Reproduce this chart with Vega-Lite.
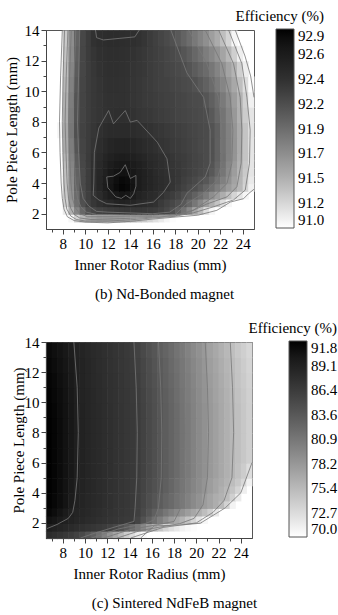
{"$schema":"https://vega.github.io/schema/vega-lite/v6.json","padding":{"left":3,"top":8,"right":0,"bottom":0},"background":"white","columns":1,"align":"none","spacing":17,"resolve":{"scale":{"color":"independent","x":"independent","y":"independent"}},
"config":{"font":"Liberation Serif","view":{"stroke":"#555555","strokeWidth":1},"axis":{"labelFontSize":15,"titleFontSize":15,"titleFontWeight":"normal","labelColor":"#000","titleColor":"#000","domainColor":"#444","tickColor":"#444","grid":false,"labelPadding":2,"labelFlush":false,"labelOverlap":false,"format":"d"},"legend":{"labelFontSize":15,"titleFontSize":15,"titleFontWeight":"normal","labelColor":"#000","titleColor":"#000","gradientStrokeColor":"#555","gradientStrokeWidth":1},"title":{"fontSize":15,"fontWeight":"normal","color":"#000"}},
"concat":[
{"width":208,"height":199,
"title":{"text":"(b)  Nd-Bonded  magnet","orient":"bottom","offset":15,"anchor":"middle","frame":"bounds"},
"layer":[
{"data":{"values":[
{"x":8.75,"y":1.5,"y2":2,"e":91.05},{"x":9.25,"y":1.5,"y2":2,"e":91.25},{"x":9.75,"y":1.5,"y2":2,"e":91.42},{"x":10.25,"y":1.5,"y2":2,"e":91.5},{"x":10.75,"y":1.5,"y2":2,"e":91.55},{"x":11.25,"y":1.5,"y2":2,"e":91.6},{"x":11.75,"y":1.5,"y2":2,"e":91.6},{"x":12.25,"y":1.5,"y2":2,"e":91.6},{"x":12.75,"y":1.5,"y2":2,"e":91.58},{"x":13.25,"y":1.5,"y2":2,"e":91.55},{"x":13.75,"y":1.5,"y2":2,"e":91.5},{"x":14.25,"y":1.5,"y2":2,"e":91.45},{"x":14.75,"y":1.5,"y2":2,"e":91.38},{"x":15.25,"y":1.5,"y2":2,"e":91.32},{"x":15.75,"y":1.5,"y2":2,"e":91.25},{"x":16.25,"y":1.5,"y2":2,"e":91.18},{"x":16.75,"y":1.5,"y2":2,"e":91.12},{"x":17.25,"y":1.5,"y2":2,"e":91.06},{"x":17.75,"y":1.5,"y2":2,"e":91.02},
{"x":8.25,"y":2,"y2":2.5,"e":91.12},{"x":8.75,"y":2,"y2":2.5,"e":91.47},{"x":9.25,"y":2,"y2":2.5,"e":91.76},{"x":9.75,"y":2,"y2":2.5,"e":91.98},{"x":10.25,"y":2,"y2":2.5,"e":92.16},{"x":10.75,"y":2,"y2":2.5,"e":92.22},{"x":11.25,"y":2,"y2":2.5,"e":92.26},{"x":11.75,"y":2,"y2":2.5,"e":92.29},{"x":12.25,"y":2,"y2":2.5,"e":92.31},{"x":12.75,"y":2,"y2":2.5,"e":92.33},{"x":13.25,"y":2,"y2":2.5,"e":92.34},{"x":13.75,"y":2,"y2":2.5,"e":92.35},{"x":14.25,"y":2,"y2":2.5,"e":92.35},{"x":14.75,"y":2,"y2":2.5,"e":92.35},{"x":15.25,"y":2,"y2":2.5,"e":92.34},{"x":15.75,"y":2,"y2":2.5,"e":92.33},{"x":16.25,"y":2,"y2":2.5,"e":92.31},{"x":16.75,"y":2,"y2":2.5,"e":92.28},{"x":17.25,"y":2,"y2":2.5,"e":92.22},{"x":17.75,"y":2,"y2":2.5,"e":92.14},{"x":18.25,"y":2,"y2":2.5,"e":92.03},{"x":18.75,"y":2,"y2":2.5,"e":91.9},{"x":19.25,"y":2,"y2":2.5,"e":91.74},{"x":19.75,"y":2,"y2":2.5,"e":91.55},{"x":20.25,"y":2,"y2":2.5,"e":91.4},{"x":20.75,"y":2,"y2":2.5,"e":91.2},{"x":21.25,"y":2,"y2":2.5,"e":91.05},
{"x":8.25,"y":2.5,"y2":3,"e":91.28},{"x":8.75,"y":2.5,"y2":3,"e":91.64},{"x":9.25,"y":2.5,"y2":3,"e":91.91},{"x":9.75,"y":2.5,"y2":3,"e":92.15},{"x":10.25,"y":2.5,"y2":3,"e":92.27},{"x":10.75,"y":2.5,"y2":3,"e":92.35},{"x":11.25,"y":2.5,"y2":3,"e":92.41},{"x":11.75,"y":2.5,"y2":3,"e":92.46},{"x":12.25,"y":2.5,"y2":3,"e":92.5},{"x":12.75,"y":2.5,"y2":3,"e":92.55},{"x":13.25,"y":2.5,"y2":3,"e":92.58},{"x":13.75,"y":2.5,"y2":3,"e":92.56},{"x":14.25,"y":2.5,"y2":3,"e":92.53},{"x":14.75,"y":2.5,"y2":3,"e":92.49},{"x":15.25,"y":2.5,"y2":3,"e":92.46},{"x":15.75,"y":2.5,"y2":3,"e":92.43},{"x":16.25,"y":2.5,"y2":3,"e":92.4},{"x":16.75,"y":2.5,"y2":3,"e":92.33},{"x":17.25,"y":2.5,"y2":3,"e":92.27},{"x":17.75,"y":2.5,"y2":3,"e":92.22},{"x":18.25,"y":2.5,"y2":3,"e":92.16},{"x":18.75,"y":2.5,"y2":3,"e":92.08},{"x":19.25,"y":2.5,"y2":3,"e":91.98},{"x":19.75,"y":2.5,"y2":3,"e":91.86},{"x":20.25,"y":2.5,"y2":3,"e":91.74},{"x":20.75,"y":2.5,"y2":3,"e":91.6},{"x":21.25,"y":2.5,"y2":3,"e":91.47},{"x":21.75,"y":2.5,"y2":3,"e":91.35},{"x":22.25,"y":2.5,"y2":3,"e":91.2},{"x":22.75,"y":2.5,"y2":3,"e":91.05},
{"x":8.25,"y":3,"y2":3.5,"e":91.31},{"x":8.75,"y":3,"y2":3.5,"e":91.67},{"x":9.25,"y":3,"y2":3.5,"e":91.95},{"x":9.75,"y":3,"y2":3.5,"e":92.18},{"x":10.25,"y":3,"y2":3.5,"e":92.29},{"x":10.75,"y":3,"y2":3.5,"e":92.38},{"x":11.25,"y":3,"y2":3.5,"e":92.47},{"x":11.75,"y":3,"y2":3.5,"e":92.55},{"x":12.25,"y":3,"y2":3.5,"e":92.62},{"x":12.75,"y":3,"y2":3.5,"e":92.68},{"x":13.25,"y":3,"y2":3.5,"e":92.72},{"x":13.75,"y":3,"y2":3.5,"e":92.7},{"x":14.25,"y":3,"y2":3.5,"e":92.64},{"x":14.75,"y":3,"y2":3.5,"e":92.57},{"x":15.25,"y":3,"y2":3.5,"e":92.52},{"x":15.75,"y":3,"y2":3.5,"e":92.48},{"x":16.25,"y":3,"y2":3.5,"e":92.45},{"x":16.75,"y":3,"y2":3.5,"e":92.39},{"x":17.25,"y":3,"y2":3.5,"e":92.34},{"x":17.75,"y":3,"y2":3.5,"e":92.3},{"x":18.25,"y":3,"y2":3.5,"e":92.25},{"x":18.75,"y":3,"y2":3.5,"e":92.17},{"x":19.25,"y":3,"y2":3.5,"e":92.1},{"x":19.75,"y":3,"y2":3.5,"e":92.02},{"x":20.25,"y":3,"y2":3.5,"e":91.93},{"x":20.75,"y":3,"y2":3.5,"e":91.83},{"x":21.25,"y":3,"y2":3.5,"e":91.7},{"x":21.75,"y":3,"y2":3.5,"e":91.6},{"x":22.25,"y":3,"y2":3.5,"e":91.49},{"x":22.75,"y":3,"y2":3.5,"e":91.37},{"x":23.25,"y":3,"y2":3.5,"e":91.25},{"x":23.75,"y":3,"y2":3.5,"e":91.15},{"x":24.25,"y":3,"y2":3.5,"e":91.05},
{"x":8.25,"y":3.5,"y2":4,"e":91.34},{"x":8.75,"y":3.5,"y2":4,"e":91.7},{"x":9.25,"y":3.5,"y2":4,"e":91.99},{"x":9.75,"y":3.5,"y2":4,"e":92.2},{"x":10.25,"y":3.5,"y2":4,"e":92.3},{"x":10.75,"y":3.5,"y2":4,"e":92.41},{"x":11.25,"y":3.5,"y2":4,"e":92.52},{"x":11.75,"y":3.5,"y2":4,"e":92.62},{"x":12.25,"y":3.5,"y2":4,"e":92.72},{"x":12.75,"y":3.5,"y2":4,"e":92.8},{"x":13.25,"y":3.5,"y2":4,"e":92.84},{"x":13.75,"y":3.5,"y2":4,"e":92.82},{"x":14.25,"y":3.5,"y2":4,"e":92.74},{"x":14.75,"y":3.5,"y2":4,"e":92.64},{"x":15.25,"y":3.5,"y2":4,"e":92.58},{"x":15.75,"y":3.5,"y2":4,"e":92.53},{"x":16.25,"y":3.5,"y2":4,"e":92.49},{"x":16.75,"y":3.5,"y2":4,"e":92.45},{"x":17.25,"y":3.5,"y2":4,"e":92.42},{"x":17.75,"y":3.5,"y2":4,"e":92.38},{"x":18.25,"y":3.5,"y2":4,"e":92.32},{"x":18.75,"y":3.5,"y2":4,"e":92.26},{"x":19.25,"y":3.5,"y2":4,"e":92.21},{"x":19.75,"y":3.5,"y2":4,"e":92.16},{"x":20.25,"y":3.5,"y2":4,"e":92.08},{"x":20.75,"y":3.5,"y2":4,"e":92.0},{"x":21.25,"y":3.5,"y2":4,"e":91.91},{"x":21.75,"y":3.5,"y2":4,"e":91.81},{"x":22.25,"y":3.5,"y2":4,"e":91.71},{"x":22.75,"y":3.5,"y2":4,"e":91.61},{"x":23.25,"y":3.5,"y2":4,"e":91.52},{"x":23.75,"y":3.5,"y2":4,"e":91.42},{"x":24.25,"y":3.5,"y2":4,"e":91.25},{"x":24.75,"y":3.5,"y2":4,"e":91.08},
{"x":8.25,"y":4,"y2":4.5,"e":91.35},{"x":8.75,"y":4,"y2":4.5,"e":91.72},{"x":9.25,"y":4,"y2":4.5,"e":92.0},{"x":9.75,"y":4,"y2":4.5,"e":92.2},{"x":10.25,"y":4,"y2":4.5,"e":92.3},{"x":10.75,"y":4,"y2":4.5,"e":92.42},{"x":11.25,"y":4,"y2":4.5,"e":92.52},{"x":11.75,"y":4,"y2":4.5,"e":92.61},{"x":12.25,"y":4,"y2":4.5,"e":92.7},{"x":12.75,"y":4,"y2":4.5,"e":92.78},{"x":13.25,"y":4,"y2":4.5,"e":92.82},{"x":13.75,"y":4,"y2":4.5,"e":92.8},{"x":14.25,"y":4,"y2":4.5,"e":92.72},{"x":14.75,"y":4,"y2":4.5,"e":92.64},{"x":15.25,"y":4,"y2":4.5,"e":92.58},{"x":15.75,"y":4,"y2":4.5,"e":92.53},{"x":16.25,"y":4,"y2":4.5,"e":92.49},{"x":16.75,"y":4,"y2":4.5,"e":92.45},{"x":17.25,"y":4,"y2":4.5,"e":92.42},{"x":17.75,"y":4,"y2":4.5,"e":92.38},{"x":18.25,"y":4,"y2":4.5,"e":92.34},{"x":18.75,"y":4,"y2":4.5,"e":92.29},{"x":19.25,"y":4,"y2":4.5,"e":92.25},{"x":19.75,"y":4,"y2":4.5,"e":92.21},{"x":20.25,"y":4,"y2":4.5,"e":92.15},{"x":20.75,"y":4,"y2":4.5,"e":92.1},{"x":21.25,"y":4,"y2":4.5,"e":92.0},{"x":21.75,"y":4,"y2":4.5,"e":91.9},{"x":22.25,"y":4,"y2":4.5,"e":91.8},{"x":22.75,"y":4,"y2":4.5,"e":91.68},{"x":23.25,"y":4,"y2":4.5,"e":91.56},{"x":23.75,"y":4,"y2":4.5,"e":91.44},{"x":24.25,"y":4,"y2":4.5,"e":91.28},{"x":24.75,"y":4,"y2":4.5,"e":91.12},
{"x":8.25,"y":4.5,"y2":5,"e":91.37},{"x":8.75,"y":4.5,"y2":5,"e":91.74},{"x":9.25,"y":4.5,"y2":5,"e":92.02},{"x":9.75,"y":4.5,"y2":5,"e":92.2},{"x":10.25,"y":4.5,"y2":5,"e":92.3},{"x":10.75,"y":4.5,"y2":5,"e":92.42},{"x":11.25,"y":4.5,"y2":5,"e":92.51},{"x":11.75,"y":4.5,"y2":5,"e":92.59},{"x":12.25,"y":4.5,"y2":5,"e":92.67},{"x":12.75,"y":4.5,"y2":5,"e":92.73},{"x":13.25,"y":4.5,"y2":5,"e":92.75},{"x":13.75,"y":4.5,"y2":5,"e":92.74},{"x":14.25,"y":4.5,"y2":5,"e":92.69},{"x":14.75,"y":4.5,"y2":5,"e":92.63},{"x":15.25,"y":4.5,"y2":5,"e":92.58},{"x":15.75,"y":4.5,"y2":5,"e":92.53},{"x":16.25,"y":4.5,"y2":5,"e":92.48},{"x":16.75,"y":4.5,"y2":5,"e":92.44},{"x":17.25,"y":4.5,"y2":5,"e":92.41},{"x":17.75,"y":4.5,"y2":5,"e":92.38},{"x":18.25,"y":4.5,"y2":5,"e":92.35},{"x":18.75,"y":4.5,"y2":5,"e":92.31},{"x":19.25,"y":4.5,"y2":5,"e":92.28},{"x":19.75,"y":4.5,"y2":5,"e":92.25},{"x":20.25,"y":4.5,"y2":5,"e":92.21},{"x":20.75,"y":4.5,"y2":5,"e":92.18},{"x":21.25,"y":4.5,"y2":5,"e":92.09},{"x":21.75,"y":4.5,"y2":5,"e":91.98},{"x":22.25,"y":4.5,"y2":5,"e":91.87},{"x":22.75,"y":4.5,"y2":5,"e":91.73},{"x":23.25,"y":4.5,"y2":5,"e":91.6},{"x":23.75,"y":4.5,"y2":5,"e":91.45},{"x":24.25,"y":4.5,"y2":5,"e":91.31},{"x":24.75,"y":4.5,"y2":5,"e":91.15},
{"x":8.25,"y":5,"y2":5.5,"e":91.4},{"x":8.75,"y":5,"y2":5.5,"e":91.76},{"x":9.25,"y":5,"y2":5.5,"e":92.05},{"x":9.75,"y":5,"y2":5.5,"e":92.22},{"x":10.25,"y":5,"y2":5.5,"e":92.31},{"x":10.75,"y":5,"y2":5.5,"e":92.41},{"x":11.25,"y":5,"y2":5.5,"e":92.49},{"x":11.75,"y":5,"y2":5.5,"e":92.56},{"x":12.25,"y":5,"y2":5.5,"e":92.63},{"x":12.75,"y":5,"y2":5.5,"e":92.67},{"x":13.25,"y":5,"y2":5.5,"e":92.69},{"x":13.75,"y":5,"y2":5.5,"e":92.68},{"x":14.25,"y":5,"y2":5.5,"e":92.64},{"x":14.75,"y":5,"y2":5.5,"e":92.6},{"x":15.25,"y":5,"y2":5.5,"e":92.55},{"x":15.75,"y":5,"y2":5.5,"e":92.5},{"x":16.25,"y":5,"y2":5.5,"e":92.46},{"x":16.75,"y":5,"y2":5.5,"e":92.43},{"x":17.25,"y":5,"y2":5.5,"e":92.4},{"x":17.75,"y":5,"y2":5.5,"e":92.37},{"x":18.25,"y":5,"y2":5.5,"e":92.34},{"x":18.75,"y":5,"y2":5.5,"e":92.31},{"x":19.25,"y":5,"y2":5.5,"e":92.28},{"x":19.75,"y":5,"y2":5.5,"e":92.25},{"x":20.25,"y":5,"y2":5.5,"e":92.22},{"x":20.75,"y":5,"y2":5.5,"e":92.19},{"x":21.25,"y":5,"y2":5.5,"e":92.12},{"x":21.75,"y":5,"y2":5.5,"e":92.0},{"x":22.25,"y":5,"y2":5.5,"e":91.89},{"x":22.75,"y":5,"y2":5.5,"e":91.75},{"x":23.25,"y":5,"y2":5.5,"e":91.62},{"x":23.75,"y":5,"y2":5.5,"e":91.47},{"x":24.25,"y":5,"y2":5.5,"e":91.33},{"x":24.75,"y":5,"y2":5.5,"e":91.15},
{"x":8.25,"y":5.5,"y2":6,"e":91.44},{"x":8.75,"y":5.5,"y2":6,"e":91.79},{"x":9.25,"y":5.5,"y2":6,"e":92.07},{"x":9.75,"y":5.5,"y2":6,"e":92.23},{"x":10.25,"y":5.5,"y2":6,"e":92.32},{"x":10.75,"y":5.5,"y2":6,"e":92.4},{"x":11.25,"y":5.5,"y2":6,"e":92.47},{"x":11.75,"y":5.5,"y2":6,"e":92.53},{"x":12.25,"y":5.5,"y2":6,"e":92.58},{"x":12.75,"y":5.5,"y2":6,"e":92.61},{"x":13.25,"y":5.5,"y2":6,"e":92.62},{"x":13.75,"y":5.5,"y2":6,"e":92.61},{"x":14.25,"y":5.5,"y2":6,"e":92.59},{"x":14.75,"y":5.5,"y2":6,"e":92.56},{"x":15.25,"y":5.5,"y2":6,"e":92.52},{"x":15.75,"y":5.5,"y2":6,"e":92.48},{"x":16.25,"y":5.5,"y2":6,"e":92.45},{"x":16.75,"y":5.5,"y2":6,"e":92.42},{"x":17.25,"y":5.5,"y2":6,"e":92.39},{"x":17.75,"y":5.5,"y2":6,"e":92.36},{"x":18.25,"y":5.5,"y2":6,"e":92.33},{"x":18.75,"y":5.5,"y2":6,"e":92.31},{"x":19.25,"y":5.5,"y2":6,"e":92.28},{"x":19.75,"y":5.5,"y2":6,"e":92.25},{"x":20.25,"y":5.5,"y2":6,"e":92.22},{"x":20.75,"y":5.5,"y2":6,"e":92.19},{"x":21.25,"y":5.5,"y2":6,"e":92.14},{"x":21.75,"y":5.5,"y2":6,"e":92.03},{"x":22.25,"y":5.5,"y2":6,"e":91.91},{"x":22.75,"y":5.5,"y2":6,"e":91.78},{"x":23.25,"y":5.5,"y2":6,"e":91.65},{"x":23.75,"y":5.5,"y2":6,"e":91.49},{"x":24.25,"y":5.5,"y2":6,"e":91.35},{"x":24.75,"y":5.5,"y2":6,"e":91.15},
{"x":8.25,"y":6,"y2":7,"e":91.5},{"x":8.75,"y":6,"y2":7,"e":91.82},{"x":9.25,"y":6,"y2":7,"e":92.11},{"x":9.75,"y":6,"y2":7,"e":92.25},{"x":10.25,"y":6,"y2":7,"e":92.31},{"x":10.75,"y":6,"y2":7,"e":92.38},{"x":11.25,"y":6,"y2":7,"e":92.44},{"x":11.75,"y":6,"y2":7,"e":92.49},{"x":12.25,"y":6,"y2":7,"e":92.53},{"x":12.75,"y":6,"y2":7,"e":92.56},{"x":13.25,"y":6,"y2":7,"e":92.56},{"x":13.75,"y":6,"y2":7,"e":92.55},{"x":14.25,"y":6,"y2":7,"e":92.53},{"x":14.75,"y":6,"y2":7,"e":92.5},{"x":15.25,"y":6,"y2":7,"e":92.47},{"x":15.75,"y":6,"y2":7,"e":92.44},{"x":16.25,"y":6,"y2":7,"e":92.41},{"x":16.75,"y":6,"y2":7,"e":92.38},{"x":17.25,"y":6,"y2":7,"e":92.36},{"x":17.75,"y":6,"y2":7,"e":92.33},{"x":18.25,"y":6,"y2":7,"e":92.31},{"x":18.75,"y":6,"y2":7,"e":92.29},{"x":19.25,"y":6,"y2":7,"e":92.26},{"x":19.75,"y":6,"y2":7,"e":92.24},{"x":20.25,"y":6,"y2":7,"e":92.21},{"x":20.75,"y":6,"y2":7,"e":92.19},{"x":21.25,"y":6,"y2":7,"e":92.14},{"x":21.75,"y":6,"y2":7,"e":92.03},{"x":22.25,"y":6,"y2":7,"e":91.9},{"x":22.75,"y":6,"y2":7,"e":91.79},{"x":23.25,"y":6,"y2":7,"e":91.66},{"x":23.75,"y":6,"y2":7,"e":91.5},{"x":24.25,"y":6,"y2":7,"e":91.35},{"x":24.75,"y":6,"y2":7,"e":91.15},
{"x":7.75,"y":7,"y2":8,"e":91.05},{"x":8.25,"y":7,"y2":8,"e":91.52},{"x":8.75,"y":7,"y2":8,"e":91.86},{"x":9.25,"y":7,"y2":8,"e":92.15},{"x":9.75,"y":7,"y2":8,"e":92.26},{"x":10.25,"y":7,"y2":8,"e":92.31},{"x":10.75,"y":7,"y2":8,"e":92.36},{"x":11.25,"y":7,"y2":8,"e":92.415},{"x":11.75,"y":7,"y2":8,"e":92.44},{"x":12.25,"y":7,"y2":8,"e":92.46},{"x":12.75,"y":7,"y2":8,"e":92.47},{"x":13.25,"y":7,"y2":8,"e":92.47},{"x":13.75,"y":7,"y2":8,"e":92.46},{"x":14.25,"y":7,"y2":8,"e":92.45},{"x":14.75,"y":7,"y2":8,"e":92.43},{"x":15.25,"y":7,"y2":8,"e":92.41},{"x":15.75,"y":7,"y2":8,"e":92.39},{"x":16.25,"y":7,"y2":8,"e":92.37},{"x":16.75,"y":7,"y2":8,"e":92.35},{"x":17.25,"y":7,"y2":8,"e":92.33},{"x":17.75,"y":7,"y2":8,"e":92.31},{"x":18.25,"y":7,"y2":8,"e":92.29},{"x":18.75,"y":7,"y2":8,"e":92.27},{"x":19.25,"y":7,"y2":8,"e":92.25},{"x":19.75,"y":7,"y2":8,"e":92.23},{"x":20.25,"y":7,"y2":8,"e":92.21},{"x":20.75,"y":7,"y2":8,"e":92.19},{"x":21.25,"y":7,"y2":8,"e":92.13},{"x":21.75,"y":7,"y2":8,"e":92.04},{"x":22.25,"y":7,"y2":8,"e":91.9},{"x":22.75,"y":7,"y2":8,"e":91.79},{"x":23.25,"y":7,"y2":8,"e":91.65},{"x":23.75,"y":7,"y2":8,"e":91.5},{"x":24.25,"y":7,"y2":8,"e":91.35},{"x":24.75,"y":7,"y2":8,"e":91.16},
{"x":8.25,"y":8,"y2":9,"e":91.49},{"x":8.75,"y":8,"y2":9,"e":91.84},{"x":9.25,"y":8,"y2":9,"e":92.13},{"x":9.75,"y":8,"y2":9,"e":92.25},{"x":10.25,"y":8,"y2":9,"e":92.3},{"x":10.75,"y":8,"y2":9,"e":92.34},{"x":11.25,"y":8,"y2":9,"e":92.37},{"x":11.75,"y":8,"y2":9,"e":92.39},{"x":12.25,"y":8,"y2":9,"e":92.41},{"x":12.75,"y":8,"y2":9,"e":92.42},{"x":13.25,"y":8,"y2":9,"e":92.42},{"x":13.75,"y":8,"y2":9,"e":92.41},{"x":14.25,"y":8,"y2":9,"e":92.39},{"x":14.75,"y":8,"y2":9,"e":92.37},{"x":15.25,"y":8,"y2":9,"e":92.35},{"x":15.75,"y":8,"y2":9,"e":92.34},{"x":16.25,"y":8,"y2":9,"e":92.32},{"x":16.75,"y":8,"y2":9,"e":92.3},{"x":17.25,"y":8,"y2":9,"e":92.29},{"x":17.75,"y":8,"y2":9,"e":92.27},{"x":18.25,"y":8,"y2":9,"e":92.25},{"x":18.75,"y":8,"y2":9,"e":92.24},{"x":19.25,"y":8,"y2":9,"e":92.22},{"x":19.75,"y":8,"y2":9,"e":92.21},{"x":20.25,"y":8,"y2":9,"e":92.19},{"x":20.75,"y":8,"y2":9,"e":92.175},{"x":21.25,"y":8,"y2":9,"e":92.08},{"x":21.75,"y":8,"y2":9,"e":91.98},{"x":22.25,"y":8,"y2":9,"e":91.88},{"x":22.75,"y":8,"y2":9,"e":91.76},{"x":23.25,"y":8,"y2":9,"e":91.63},{"x":23.75,"y":8,"y2":9,"e":91.47},{"x":24.25,"y":8,"y2":9,"e":91.3},{"x":24.75,"y":8,"y2":9,"e":91.15},
{"x":8.25,"y":9,"y2":10,"e":91.47},{"x":8.75,"y":9,"y2":10,"e":91.82},{"x":9.25,"y":9,"y2":10,"e":92.12},{"x":9.75,"y":9,"y2":10,"e":92.25},{"x":10.25,"y":9,"y2":10,"e":92.3},{"x":10.75,"y":9,"y2":10,"e":92.34},{"x":11.25,"y":9,"y2":10,"e":92.37},{"x":11.75,"y":9,"y2":10,"e":92.39},{"x":12.25,"y":9,"y2":10,"e":92.4},{"x":12.75,"y":9,"y2":10,"e":92.4},{"x":13.25,"y":9,"y2":10,"e":92.4},{"x":13.75,"y":9,"y2":10,"e":92.39},{"x":14.25,"y":9,"y2":10,"e":92.37},{"x":14.75,"y":9,"y2":10,"e":92.35},{"x":15.25,"y":9,"y2":10,"e":92.33},{"x":15.75,"y":9,"y2":10,"e":92.32},{"x":16.25,"y":9,"y2":10,"e":92.3},{"x":16.75,"y":9,"y2":10,"e":92.29},{"x":17.25,"y":9,"y2":10,"e":92.27},{"x":17.75,"y":9,"y2":10,"e":92.26},{"x":18.25,"y":9,"y2":10,"e":92.24},{"x":18.75,"y":9,"y2":10,"e":92.23},{"x":19.25,"y":9,"y2":10,"e":92.21},{"x":19.75,"y":9,"y2":10,"e":92.19},{"x":20.25,"y":9,"y2":10,"e":92.18},{"x":20.75,"y":9,"y2":10,"e":92.11},{"x":21.25,"y":9,"y2":10,"e":92.03},{"x":21.75,"y":9,"y2":10,"e":91.945},{"x":22.25,"y":9,"y2":10,"e":91.84},{"x":22.75,"y":9,"y2":10,"e":91.72},{"x":23.25,"y":9,"y2":10,"e":91.6},{"x":23.75,"y":9,"y2":10,"e":91.46},{"x":24.25,"y":9,"y2":10,"e":91.27},{"x":24.75,"y":9,"y2":10,"e":91.08},
{"x":8.25,"y":10,"y2":11,"e":91.43},{"x":8.75,"y":10,"y2":11,"e":91.79},{"x":9.25,"y":10,"y2":11,"e":92.09},{"x":9.75,"y":10,"y2":11,"e":92.24},{"x":10.25,"y":10,"y2":11,"e":92.3},{"x":10.75,"y":10,"y2":11,"e":92.34},{"x":11.25,"y":10,"y2":11,"e":92.38},{"x":11.75,"y":10,"y2":11,"e":92.4},{"x":12.25,"y":10,"y2":11,"e":92.41},{"x":12.75,"y":10,"y2":11,"e":92.41},{"x":13.25,"y":10,"y2":11,"e":92.4},{"x":13.75,"y":10,"y2":11,"e":92.39},{"x":14.25,"y":10,"y2":11,"e":92.37},{"x":14.75,"y":10,"y2":11,"e":92.35},{"x":15.25,"y":10,"y2":11,"e":92.33},{"x":15.75,"y":10,"y2":11,"e":92.31},{"x":16.25,"y":10,"y2":11,"e":92.29},{"x":16.75,"y":10,"y2":11,"e":92.27},{"x":17.25,"y":10,"y2":11,"e":92.26},{"x":17.75,"y":10,"y2":11,"e":92.24},{"x":18.25,"y":10,"y2":11,"e":92.22},{"x":18.75,"y":10,"y2":11,"e":92.2},{"x":19.25,"y":10,"y2":11,"e":92.18},{"x":19.75,"y":10,"y2":11,"e":92.14},{"x":20.25,"y":10,"y2":11,"e":92.08},{"x":20.75,"y":10,"y2":11,"e":92.02},{"x":21.25,"y":10,"y2":11,"e":91.95},{"x":21.75,"y":10,"y2":11,"e":91.84},{"x":22.25,"y":10,"y2":11,"e":91.76},{"x":22.75,"y":10,"y2":11,"e":91.64},{"x":23.25,"y":10,"y2":11,"e":91.52},{"x":23.75,"y":10,"y2":11,"e":91.38},{"x":24.25,"y":10,"y2":11,"e":91.2},{"x":24.75,"y":10,"y2":11,"e":91.02},
{"x":8.25,"y":11,"y2":12,"e":91.39},{"x":8.75,"y":11,"y2":12,"e":91.76},{"x":9.25,"y":11,"y2":12,"e":92.06},{"x":9.75,"y":11,"y2":12,"e":92.23},{"x":10.25,"y":11,"y2":12,"e":92.3},{"x":10.75,"y":11,"y2":12,"e":92.35},{"x":11.25,"y":11,"y2":12,"e":92.39},{"x":11.75,"y":11,"y2":12,"e":92.41},{"x":12.25,"y":11,"y2":12,"e":92.42},{"x":12.75,"y":11,"y2":12,"e":92.42},{"x":13.25,"y":11,"y2":12,"e":92.41},{"x":13.75,"y":11,"y2":12,"e":92.4},{"x":14.25,"y":11,"y2":12,"e":92.38},{"x":14.75,"y":11,"y2":12,"e":92.36},{"x":15.25,"y":11,"y2":12,"e":92.34},{"x":15.75,"y":11,"y2":12,"e":92.31},{"x":16.25,"y":11,"y2":12,"e":92.29},{"x":16.75,"y":11,"y2":12,"e":92.27},{"x":17.25,"y":11,"y2":12,"e":92.24},{"x":17.75,"y":11,"y2":12,"e":92.22},{"x":18.25,"y":11,"y2":12,"e":92.2},{"x":18.75,"y":11,"y2":12,"e":92.175},{"x":19.25,"y":11,"y2":12,"e":92.12},{"x":19.75,"y":11,"y2":12,"e":92.06},{"x":20.25,"y":11,"y2":12,"e":92.0},{"x":20.75,"y":11,"y2":12,"e":91.95},{"x":21.25,"y":11,"y2":12,"e":91.86},{"x":21.75,"y":11,"y2":12,"e":91.77},{"x":22.25,"y":11,"y2":12,"e":91.68},{"x":22.75,"y":11,"y2":12,"e":91.56},{"x":23.25,"y":11,"y2":12,"e":91.45},{"x":23.75,"y":11,"y2":12,"e":91.28},{"x":24.25,"y":11,"y2":12,"e":91.1},
{"x":8.25,"y":12,"y2":13,"e":91.35},{"x":8.75,"y":12,"y2":13,"e":91.73},{"x":9.25,"y":12,"y2":13,"e":92.04},{"x":9.75,"y":12,"y2":13,"e":92.23},{"x":10.25,"y":12,"y2":13,"e":92.31},{"x":10.75,"y":12,"y2":13,"e":92.37},{"x":11.25,"y":12,"y2":13,"e":92.41},{"x":11.75,"y":12,"y2":13,"e":92.42},{"x":12.25,"y":12,"y2":13,"e":92.43},{"x":12.75,"y":12,"y2":13,"e":92.43},{"x":13.25,"y":12,"y2":13,"e":92.42},{"x":13.75,"y":12,"y2":13,"e":92.41},{"x":14.25,"y":12,"y2":13,"e":92.39},{"x":14.75,"y":12,"y2":13,"e":92.37},{"x":15.25,"y":12,"y2":13,"e":92.34},{"x":15.75,"y":12,"y2":13,"e":92.31},{"x":16.25,"y":12,"y2":13,"e":92.29},{"x":16.75,"y":12,"y2":13,"e":92.26},{"x":17.25,"y":12,"y2":13,"e":92.23},{"x":17.75,"y":12,"y2":13,"e":92.2},{"x":18.25,"y":12,"y2":13,"e":92.17},{"x":18.75,"y":12,"y2":13,"e":92.11},{"x":19.25,"y":12,"y2":13,"e":92.05},{"x":19.75,"y":12,"y2":13,"e":91.98},{"x":20.25,"y":12,"y2":13,"e":91.91},{"x":20.75,"y":12,"y2":13,"e":91.82},{"x":21.25,"y":12,"y2":13,"e":91.75},{"x":21.75,"y":12,"y2":13,"e":91.66},{"x":22.25,"y":12,"y2":13,"e":91.55},{"x":22.75,"y":12,"y2":13,"e":91.43},{"x":23.25,"y":12,"y2":13,"e":91.28},{"x":23.75,"y":12,"y2":13,"e":91.1},
{"x":8.25,"y":13,"y2":14,"e":91.31},{"x":8.75,"y":13,"y2":14,"e":91.7},{"x":9.25,"y":13,"y2":14,"e":92.01},{"x":9.75,"y":13,"y2":14,"e":92.22},{"x":10.25,"y":13,"y2":14,"e":92.31},{"x":10.75,"y":13,"y2":14,"e":92.4},{"x":11.25,"y":13,"y2":14,"e":92.43},{"x":11.75,"y":13,"y2":14,"e":92.44},{"x":12.25,"y":13,"y2":14,"e":92.45},{"x":12.75,"y":13,"y2":14,"e":92.45},{"x":13.25,"y":13,"y2":14,"e":92.44},{"x":13.75,"y":13,"y2":14,"e":92.43},{"x":14.25,"y":13,"y2":14,"e":92.42},{"x":14.75,"y":13,"y2":14,"e":92.4},{"x":15.25,"y":13,"y2":14,"e":92.365},{"x":15.75,"y":13,"y2":14,"e":92.32},{"x":16.25,"y":13,"y2":14,"e":92.28},{"x":16.75,"y":13,"y2":14,"e":92.24},{"x":17.25,"y":13,"y2":14,"e":92.2},{"x":17.75,"y":13,"y2":14,"e":92.15},{"x":18.25,"y":13,"y2":14,"e":92.08},{"x":18.75,"y":13,"y2":14,"e":92.01},{"x":19.25,"y":13,"y2":14,"e":91.93},{"x":19.75,"y":13,"y2":14,"e":91.85},{"x":20.25,"y":13,"y2":14,"e":91.77},{"x":20.75,"y":13,"y2":14,"e":91.69},{"x":21.25,"y":13,"y2":14,"e":91.59},{"x":21.75,"y":13,"y2":14,"e":91.5},{"x":22.25,"y":13,"y2":14,"e":91.38},{"x":22.75,"y":13,"y2":14,"e":91.25},{"x":23.25,"y":13,"y2":14,"e":91.05}
]},
"mark":{"type":"rect","binSpacing":0,"x2Offset":-0.6,"y2Offset":0.6},
"encoding":{
"x":{"field":"x","type":"quantitative","bin":{"step":0.5,"extent":[6.5,25]},"scale":{"domain":[6.5,25],"nice":false,"zero":false},"axis":{"title":"Inner Rotor Radius (mm)","format":"d","values":[7,8,9,10,11,12,13,14,15,16,17,18,19,20,21,22,23,24],"labelExpr":"datum.value % 2 === 0 ? datum.label : ''","tickSize":{"condition":{"test":"datum.value % 2 === 0","value":5},"value":3},"titlePadding":6}},
"y":{"field":"y","type":"quantitative","bin":"binned","scale":{"domain":[1,14],"nice":false,"zero":false},"axis":{"title":"Pole Piece Length (mm)","format":"d","values":[2,3,4,5,6,7,8,9,10,11,12,13,14],"labelExpr":"datum.value % 2 === 0 ? datum.label : ''","tickSize":{"condition":{"test":"datum.value % 2 === 0","value":5},"value":3},"titlePadding":5}},
"y2":{"field":"y2"},
"color":{"field":"e","type":"quantitative","scale":{"domain":[91.0,91.47,91.94,92.41,92.88],"range":["#ffffff","#b0b0b0","#6c6c6c","#303030","#000000"],"clamp":true},"legend":{"type":"gradient","title":"Efficiency (%)","orient":"none","legendX":190,"legendY":-21,"direction":"vertical","gradientLength":199,"gradientThickness":18,"values":[91.0,91.235,91.47,91.705,91.94,92.175,92.41,92.64,92.88],"format":".1f","titleAnchor":"end","titlePadding":5,"labelOffset":4,"labelBaseline":"middle","labelOverlap":false}}
}},
{"data":{"values":[
{"c":"a0","i":0,"lx":7.95,"ly":14},{"c":"a0","i":1,"lx":7.8,"ly":11},{"c":"a0","i":2,"lx":7.7,"ly":8},{"c":"a0","i":3,"lx":7.75,"ly":6},{"c":"a0","i":4,"lx":7.85,"ly":4},{"c":"a0","i":5,"lx":7.95,"ly":3},{"c":"a0","i":6,"lx":8.1,"ly":2.3},{"c":"a0","i":7,"lx":8.4,"ly":1.8},{"c":"a0","i":8,"lx":9,"ly":1.55},{"c":"a0","i":9,"lx":10,"ly":1.45},{"c":"a0","i":10,"lx":12,"ly":1.4},{"c":"a0","i":11,"lx":14,"ly":1.5},{"c":"a0","i":12,"lx":16,"ly":1.65},{"c":"a0","i":13,"lx":18,"ly":1.78},{"c":"a0","i":14,"lx":20,"ly":1.9},{"c":"a0","i":15,"lx":21.7,"ly":2.22},{"c":"a0","i":16,"lx":22.9,"ly":2.76},{"c":"a0","i":17,"lx":24.07,"ly":2.98},{"c":"a0","i":18,"lx":24.5,"ly":3.3},{"c":"a0","i":19,"lx":25,"ly":3.6},
{"c":"a1","i":0,"lx":23.33,"ly":14},{"c":"a1","i":1,"lx":24.2,"ly":12.3},{"c":"a1","i":2,"lx":24.7,"ly":11},{"c":"a1","i":3,"lx":25,"ly":9.6},
{"c":"b","i":0,"lx":8.15,"ly":14},{"c":"b","i":1,"lx":8.02,"ly":11},{"c":"b","i":2,"lx":7.95,"ly":8},{"c":"b","i":3,"lx":8.0,"ly":6},{"c":"b","i":4,"lx":8.1,"ly":4},{"c":"b","i":5,"lx":8.2,"ly":3},{"c":"b","i":6,"lx":8.35,"ly":2.3},{"c":"b","i":7,"lx":8.7,"ly":1.85},{"c":"b","i":8,"lx":9.2,"ly":1.62},{"c":"b","i":9,"lx":10,"ly":1.52},{"c":"b","i":10,"lx":12,"ly":1.52},{"c":"b","i":11,"lx":14,"ly":1.6},{"c":"b","i":12,"lx":16,"ly":1.72},{"c":"b","i":13,"lx":18,"ly":1.83},{"c":"b","i":14,"lx":19.63,"ly":2.06},{"c":"b","i":15,"lx":21.4,"ly":2.45},{"c":"b","i":16,"lx":23.18,"ly":2.9},{"c":"b","i":17,"lx":24.22,"ly":3.54},{"c":"b","i":18,"lx":24.6,"ly":5.3},{"c":"b","i":19,"lx":24.66,"ly":7.46},{"c":"b","i":20,"lx":24.37,"ly":9.6},{"c":"b","i":21,"lx":23.92,"ly":11.8},{"c":"b","i":22,"lx":22.74,"ly":14},
{"c":"c","i":0,"lx":8.45,"ly":14},{"c":"c","i":1,"lx":8.3,"ly":11},{"c":"c","i":2,"lx":8.2,"ly":8},{"c":"c","i":3,"lx":8.28,"ly":6},{"c":"c","i":4,"lx":8.38,"ly":4},{"c":"c","i":5,"lx":8.5,"ly":3},{"c":"c","i":6,"lx":8.7,"ly":2.35},{"c":"c","i":7,"lx":9.0,"ly":1.95},{"c":"c","i":8,"lx":9.5,"ly":1.72},{"c":"c","i":9,"lx":10.5,"ly":1.62},{"c":"c","i":10,"lx":12,"ly":1.65},{"c":"c","i":11,"lx":14,"ly":1.7},{"c":"c","i":12,"lx":16,"ly":1.77},{"c":"c","i":13,"lx":18,"ly":1.86},{"c":"c","i":14,"lx":19.33,"ly":2.13},{"c":"c","i":15,"lx":20.8,"ly":2.63},{"c":"c","i":16,"lx":22.6,"ly":3.1},{"c":"c","i":17,"lx":23.48,"ly":3.76},{"c":"c","i":18,"lx":23.86,"ly":5.3},{"c":"c","i":19,"lx":23.92,"ly":7.46},{"c":"c","i":20,"lx":23.77,"ly":9.6},{"c":"c","i":21,"lx":23.18,"ly":11.8},{"c":"c","i":22,"lx":21.85,"ly":14},
{"c":"d","i":0,"lx":8.75,"ly":14},{"c":"d","i":1,"lx":8.6,"ly":11},{"c":"d","i":2,"lx":8.5,"ly":8},{"c":"d","i":3,"lx":8.6,"ly":6},{"c":"d","i":4,"lx":8.72,"ly":4},{"c":"d","i":5,"lx":8.85,"ly":3},{"c":"d","i":6,"lx":9.1,"ly":2.4},{"c":"d","i":7,"lx":9.5,"ly":2.0},{"c":"d","i":8,"lx":10.2,"ly":1.8},{"c":"d","i":9,"lx":12,"ly":1.8},{"c":"d","i":10,"lx":14,"ly":1.8},{"c":"d","i":11,"lx":16,"ly":1.82},{"c":"d","i":12,"lx":18,"ly":1.9},{"c":"d","i":13,"lx":19.63,"ly":2.24},{"c":"d","i":14,"lx":21.4,"ly":3.1},{"c":"d","i":15,"lx":22.6,"ly":3.98},{"c":"d","i":16,"lx":23.03,"ly":5.3},{"c":"d","i":17,"lx":23.12,"ly":7.46},{"c":"d","i":18,"lx":22.88,"ly":9.6},{"c":"d","i":19,"lx":22.14,"ly":11.8},{"c":"d","i":20,"lx":20.66,"ly":14},
{"c":"e","i":0,"lx":9.15,"ly":14},{"c":"e","i":1,"lx":9.0,"ly":11},{"c":"e","i":2,"lx":8.9,"ly":8},{"c":"e","i":3,"lx":9.0,"ly":6},{"c":"e","i":4,"lx":9.12,"ly":4},{"c":"e","i":5,"lx":9.3,"ly":3},{"c":"e","i":6,"lx":9.6,"ly":2.45},{"c":"e","i":7,"lx":10.1,"ly":2.1},{"c":"e","i":8,"lx":11,"ly":1.95},{"c":"e","i":9,"lx":12,"ly":1.95},{"c":"e","i":10,"lx":14,"ly":1.9},{"c":"e","i":11,"lx":16,"ly":1.88},{"c":"e","i":12,"lx":18,"ly":1.95},{"c":"e","i":13,"lx":19.03,"ly":2.67},{"c":"e","i":14,"lx":20.52,"ly":3.33},{"c":"e","i":15,"lx":21.7,"ly":4.2},{"c":"e","i":16,"lx":22.14,"ly":5.3},{"c":"e","i":17,"lx":22.14,"ly":7.46},{"c":"e","i":18,"lx":21.85,"ly":9.6},{"c":"e","i":19,"lx":20.81,"ly":11.8},{"c":"e","i":20,"lx":19.18,"ly":14},
{"c":"f","i":0,"lx":9.5,"ly":14},{"c":"f","i":1,"lx":9.4,"ly":11},{"c":"f","i":2,"lx":9.3,"ly":8},{"c":"f","i":3,"lx":9.4,"ly":6},{"c":"f","i":4,"lx":9.55,"ly":4},{"c":"f","i":5,"lx":9.8,"ly":3},{"c":"f","i":6,"lx":10.3,"ly":2.5},{"c":"f","i":7,"lx":11,"ly":2.15},{"c":"f","i":8,"lx":12,"ly":2.1},{"c":"f","i":9,"lx":14,"ly":2.05},{"c":"f","i":10,"lx":16,"ly":2.0},{"c":"f","i":11,"lx":17.5,"ly":2.1},{"c":"f","i":12,"lx":18.5,"ly":2.6},{"c":"f","i":13,"lx":19.03,"ly":3.33},{"c":"f","i":14,"lx":20.66,"ly":4.4},{"c":"f","i":15,"lx":21.1,"ly":5.3},{"c":"f","i":16,"lx":21.1,"ly":7.46},{"c":"f","i":17,"lx":20.52,"ly":9.6},{"c":"f","i":18,"lx":19.03,"ly":11.2},{"c":"f","i":19,"lx":17.6,"ly":14},
{"c":"g","i":0,"lx":10.7,"ly":3.2},{"c":"g","i":1,"lx":10.75,"ly":4},{"c":"g","i":2,"lx":10.8,"ly":6},{"c":"g","i":3,"lx":11.2,"ly":7.6},{"c":"g","i":4,"lx":12.07,"ly":8.74},{"c":"g","i":5,"lx":12.5,"ly":7.87},{"c":"g","i":6,"lx":13.55,"ly":8.74},{"c":"g","i":7,"lx":14.0,"ly":7.98},{"c":"g","i":8,"lx":14.6,"ly":8.1},{"c":"g","i":9,"lx":16.4,"ly":6.67},{"c":"g","i":10,"lx":17.26,"ly":5.59},{"c":"g","i":11,"lx":17.55,"ly":4.07},{"c":"g","i":12,"lx":16.96,"ly":3.4},{"c":"g","i":13,"lx":16.07,"ly":2.76},{"c":"g","i":14,"lx":14,"ly":2.55},{"c":"g","i":15,"lx":11.9,"ly":2.65},{"c":"g","i":16,"lx":11.2,"ly":2.9},{"c":"g","i":17,"lx":10.7,"ly":3.2},
{"c":"h","i":0,"lx":10.9,"ly":14},{"c":"h","i":1,"lx":11.0,"ly":13.5},{"c":"h","i":2,"lx":11.6,"ly":13.35},{"c":"h","i":3,"lx":13,"ly":13.45},{"c":"h","i":4,"lx":14.4,"ly":13.55},{"c":"h","i":5,"lx":14.8,"ly":14},
{"c":"k","i":0,"lx":11.9,"ly":4.4},{"c":"k","i":1,"lx":12.5,"ly":4.45},{"c":"k","i":2,"lx":13.1,"ly":4.7},{"c":"k","i":3,"lx":13.55,"ly":5.2},{"c":"k","i":4,"lx":14.0,"ly":4.3},{"c":"k","i":5,"lx":14.5,"ly":4.5},{"c":"k","i":6,"lx":14.5,"ly":3.8},{"c":"k","i":7,"lx":14.3,"ly":3.3},{"c":"k","i":8,"lx":14.0,"ly":3.0},{"c":"k","i":9,"lx":13.6,"ly":3.2},{"c":"k","i":10,"lx":13.2,"ly":3.0},{"c":"k","i":11,"lx":12.7,"ly":3.1},{"c":"k","i":12,"lx":12.0,"ly":3.7},{"c":"k","i":13,"lx":11.9,"ly":4.4}
]},
"mark":{"type":"line","stroke":"#777777","strokeWidth":0.8,"interpolate":"linear"},
"encoding":{
"x":{"field":"lx","type":"quantitative","scale":{"domain":[6.5,25],"nice":false,"zero":false},"axis":{"title":"Inner Rotor Radius (mm)","format":"d","values":[7,8,9,10,11,12,13,14,15,16,17,18,19,20,21,22,23,24],"labelExpr":"datum.value % 2 === 0 ? datum.label : ''","tickSize":{"condition":{"test":"datum.value % 2 === 0","value":5},"value":3},"titlePadding":6}},
"y":{"field":"ly","type":"quantitative","scale":{"domain":[1,14],"nice":false,"zero":false},"axis":{"title":"Pole Piece Length (mm)","format":"d","values":[2,3,4,5,6,7,8,9,10,11,12,13,14],"labelExpr":"datum.value % 2 === 0 ? datum.label : ''","tickSize":{"condition":{"test":"datum.value % 2 === 0","value":5},"value":3},"titlePadding":5}},
"detail":{"field":"c","type":"nominal"},
"order":{"field":"i","type":"quantitative"}
}}
]},
{"width":206,"height":196,
"title":{"text":"(c)  Sintered  NdFeB  magnet","orient":"bottom","offset":15,"anchor":"middle","frame":"bounds"},
"layer":[
{"data":{"values":[
{"x":6.75,"y":1,"y2":1.5,"e":88.0},{"x":7.25,"y":1,"y2":1.5,"e":87.6},{"x":7.75,"y":1,"y2":1.5,"e":87.2},{"x":8.25,"y":1,"y2":1.5,"e":86.8},{"x":8.75,"y":1,"y2":1.5,"e":86.4},{"x":9.25,"y":1,"y2":1.5,"e":85.8},{"x":9.75,"y":1,"y2":1.5,"e":85.0},{"x":10.25,"y":1,"y2":1.5,"e":84.0},{"x":10.75,"y":1,"y2":1.5,"e":82.8},{"x":11.25,"y":1,"y2":1.5,"e":81.5},{"x":11.75,"y":1,"y2":1.5,"e":80.0},{"x":12.25,"y":1,"y2":1.5,"e":78.5},{"x":12.75,"y":1,"y2":1.5,"e":77.0},{"x":13.25,"y":1,"y2":1.5,"e":75.5},{"x":13.75,"y":1,"y2":1.5,"e":74.0},{"x":14.25,"y":1,"y2":1.5,"e":72.7},{"x":14.75,"y":1,"y2":1.5,"e":71.5},{"x":15.25,"y":1,"y2":1.5,"e":70.5},
{"x":6.75,"y":1.5,"y2":2,"e":89.4},{"x":7.25,"y":1.5,"y2":2,"e":89.0},{"x":7.75,"y":1.5,"y2":2,"e":88.7},{"x":8.25,"y":1.5,"y2":2,"e":88.4},{"x":8.75,"y":1.5,"y2":2,"e":88.1},{"x":9.25,"y":1.5,"y2":2,"e":87.8},{"x":9.75,"y":1.5,"y2":2,"e":87.5},{"x":10.25,"y":1.5,"y2":2,"e":87.2},{"x":10.75,"y":1.5,"y2":2,"e":86.9},{"x":11.25,"y":1.5,"y2":2,"e":86.6},{"x":11.75,"y":1.5,"y2":2,"e":86.3},{"x":12.25,"y":1.5,"y2":2,"e":85.8},{"x":12.75,"y":1.5,"y2":2,"e":85.2},{"x":13.25,"y":1.5,"y2":2,"e":84.4},{"x":13.75,"y":1.5,"y2":2,"e":83.5},{"x":14.25,"y":1.5,"y2":2,"e":82.3},{"x":14.75,"y":1.5,"y2":2,"e":81.0},{"x":15.25,"y":1.5,"y2":2,"e":79.5},{"x":15.75,"y":1.5,"y2":2,"e":77.8},{"x":16.25,"y":1.5,"y2":2,"e":76.0},{"x":16.75,"y":1.5,"y2":2,"e":74.5},{"x":17.25,"y":1.5,"y2":2,"e":73.3},{"x":17.75,"y":1.5,"y2":2,"e":72.4},{"x":18.25,"y":1.5,"y2":2,"e":71.7},{"x":18.75,"y":1.5,"y2":2,"e":71.0},{"x":19.25,"y":1.5,"y2":2,"e":70.5},{"x":19.75,"y":1.5,"y2":2,"e":70.2},
{"x":6.75,"y":2,"y2":2.5,"e":90.6},{"x":7.25,"y":2,"y2":2.5,"e":90.2},{"x":7.75,"y":2,"y2":2.5,"e":89.7},{"x":8.25,"y":2,"y2":2.5,"e":89.1},{"x":8.75,"y":2,"y2":2.5,"e":88.8},{"x":9.25,"y":2,"y2":2.5,"e":88.5},{"x":9.75,"y":2,"y2":2.5,"e":88.25},{"x":10.25,"y":2,"y2":2.5,"e":88.0},{"x":10.75,"y":2,"y2":2.5,"e":87.75},{"x":11.25,"y":2,"y2":2.5,"e":87.5},{"x":11.75,"y":2,"y2":2.5,"e":87.3},{"x":12.25,"y":2,"y2":2.5,"e":87.05},{"x":12.75,"y":2,"y2":2.5,"e":86.85},{"x":13.25,"y":2,"y2":2.5,"e":86.65},{"x":13.75,"y":2,"y2":2.5,"e":86.5},{"x":14.25,"y":2,"y2":2.5,"e":86.4},{"x":14.75,"y":2,"y2":2.5,"e":85.5},{"x":15.25,"y":2,"y2":2.5,"e":84.2},{"x":15.75,"y":2,"y2":2.5,"e":82.9},{"x":16.25,"y":2,"y2":2.5,"e":81.6},{"x":16.75,"y":2,"y2":2.5,"e":80.3},{"x":17.25,"y":2,"y2":2.5,"e":79.0},{"x":17.75,"y":2,"y2":2.5,"e":77.8},{"x":18.25,"y":2,"y2":2.5,"e":76.8},{"x":18.75,"y":2,"y2":2.5,"e":75.9},{"x":19.25,"y":2,"y2":2.5,"e":74.6},{"x":19.75,"y":2,"y2":2.5,"e":73.3},{"x":20.25,"y":2,"y2":2.5,"e":72.0},{"x":20.75,"y":2,"y2":2.5,"e":70.6},
{"x":6.75,"y":2.5,"y2":3,"e":91.4},{"x":7.25,"y":2.5,"y2":3,"e":91.0},{"x":7.75,"y":2.5,"y2":3,"e":90.4},{"x":8.25,"y":2.5,"y2":3,"e":89.7},{"x":8.75,"y":2.5,"y2":3,"e":89.05},{"x":9.25,"y":2.5,"y2":3,"e":88.75},{"x":9.75,"y":2.5,"y2":3,"e":88.5},{"x":10.25,"y":2.5,"y2":3,"e":88.25},{"x":10.75,"y":2.5,"y2":3,"e":88.0},{"x":11.25,"y":2.5,"y2":3,"e":87.75},{"x":11.75,"y":2.5,"y2":3,"e":87.5},{"x":12.25,"y":2.5,"y2":3,"e":87.3},{"x":12.75,"y":2.5,"y2":3,"e":87.1},{"x":13.25,"y":2.5,"y2":3,"e":86.9},{"x":13.75,"y":2.5,"y2":3,"e":86.7},{"x":14.25,"y":2.5,"y2":3,"e":86.5},{"x":14.75,"y":2.5,"y2":3,"e":86.0},{"x":15.25,"y":2.5,"y2":3,"e":85.0},{"x":15.75,"y":2.5,"y2":3,"e":84.0},{"x":16.25,"y":2.5,"y2":3,"e":82.9},{"x":16.75,"y":2.5,"y2":3,"e":81.9},{"x":17.25,"y":2.5,"y2":3,"e":81.0},{"x":17.75,"y":2.5,"y2":3,"e":80.1},{"x":18.25,"y":2.5,"y2":3,"e":79.3},{"x":18.75,"y":2.5,"y2":3,"e":78.5},{"x":19.25,"y":2.5,"y2":3,"e":77.7},{"x":19.75,"y":2.5,"y2":3,"e":76.9},{"x":20.25,"y":2.5,"y2":3,"e":76.1},{"x":20.75,"y":2.5,"y2":3,"e":75.0},{"x":21.25,"y":2.5,"y2":3,"e":73.8},{"x":21.75,"y":2.5,"y2":3,"e":71.8},
{"x":6.75,"y":3,"y2":4,"e":91.7},{"x":7.25,"y":3,"y2":4,"e":91.4},{"x":7.75,"y":3,"y2":4,"e":91.0},{"x":8.25,"y":3,"y2":4,"e":90.4},{"x":8.75,"y":3,"y2":4,"e":89.6},{"x":9.25,"y":3,"y2":4,"e":89.0},{"x":9.75,"y":3,"y2":4,"e":88.7},{"x":10.25,"y":3,"y2":4,"e":88.45},{"x":10.75,"y":3,"y2":4,"e":88.2},{"x":11.25,"y":3,"y2":4,"e":87.95},{"x":11.75,"y":3,"y2":4,"e":87.7},{"x":12.25,"y":3,"y2":4,"e":87.45},{"x":12.75,"y":3,"y2":4,"e":87.2},{"x":13.25,"y":3,"y2":4,"e":87.0},{"x":13.75,"y":3,"y2":4,"e":86.75},{"x":14.25,"y":3,"y2":4,"e":86.5},{"x":14.75,"y":3,"y2":4,"e":86.0},{"x":15.25,"y":3,"y2":4,"e":85.3},{"x":15.75,"y":3,"y2":4,"e":84.6},{"x":16.25,"y":3,"y2":4,"e":83.9},{"x":16.75,"y":3,"y2":4,"e":83.3},{"x":17.25,"y":3,"y2":4,"e":82.6},{"x":17.75,"y":3,"y2":4,"e":82.0},{"x":18.25,"y":3,"y2":4,"e":81.3},{"x":18.75,"y":3,"y2":4,"e":80.7},{"x":19.25,"y":3,"y2":4,"e":80.0},{"x":19.75,"y":3,"y2":4,"e":79.3},{"x":20.25,"y":3,"y2":4,"e":78.6},{"x":20.75,"y":3,"y2":4,"e":77.8},{"x":21.25,"y":3,"y2":4,"e":77.1},{"x":21.75,"y":3,"y2":4,"e":76.4},
{"x":22.25,"y":3,"y2":3.5,"e":75.3},{"x":22.75,"y":3,"y2":3.5,"e":73.4},{"x":23.25,"y":3,"y2":3.5,"e":70.9},
{"x":22.25,"y":3.5,"y2":4,"e":76.0},{"x":22.75,"y":3.5,"y2":4,"e":75.0},{"x":23.25,"y":3.5,"y2":4,"e":73.6},{"x":23.75,"y":3.5,"y2":4,"e":71.5},
{"x":6.75,"y":4,"y2":5,"e":91.78},{"x":7.25,"y":4,"y2":5,"e":91.5},{"x":7.75,"y":4,"y2":5,"e":91.1},{"x":8.25,"y":4,"y2":5,"e":90.55},{"x":8.75,"y":4,"y2":5,"e":89.85},{"x":9.25,"y":4,"y2":5,"e":89.05},{"x":9.75,"y":4,"y2":5,"e":88.8},{"x":10.25,"y":4,"y2":5,"e":88.5},{"x":10.75,"y":4,"y2":5,"e":88.25},{"x":11.25,"y":4,"y2":5,"e":88.0},{"x":11.75,"y":4,"y2":5,"e":87.75},{"x":12.25,"y":4,"y2":5,"e":87.5},{"x":12.75,"y":4,"y2":5,"e":87.25},{"x":13.25,"y":4,"y2":5,"e":87.0},{"x":13.75,"y":4,"y2":5,"e":86.75},{"x":14.25,"y":4,"y2":5,"e":86.5},{"x":14.75,"y":4,"y2":5,"e":86.1},{"x":15.25,"y":4,"y2":5,"e":85.5},{"x":15.75,"y":4,"y2":5,"e":84.9},{"x":16.25,"y":4,"y2":5,"e":84.3},{"x":16.75,"y":4,"y2":5,"e":83.7},{"x":17.25,"y":4,"y2":5,"e":83.0},{"x":17.75,"y":4,"y2":5,"e":82.4},{"x":18.25,"y":4,"y2":5,"e":81.7},{"x":18.75,"y":4,"y2":5,"e":81.1},{"x":19.25,"y":4,"y2":5,"e":80.4},{"x":19.75,"y":4,"y2":5,"e":79.7},{"x":20.25,"y":4,"y2":5,"e":79.1},{"x":20.75,"y":4,"y2":5,"e":78.4},{"x":21.25,"y":4,"y2":5,"e":77.7},{"x":21.75,"y":4,"y2":5,"e":77.0},
{"x":22.25,"y":4,"y2":4.5,"e":76.2},{"x":22.75,"y":4,"y2":4.5,"e":75.5},{"x":23.25,"y":4,"y2":4.5,"e":74.5},{"x":23.75,"y":4,"y2":4.5,"e":73.3},{"x":24.25,"y":4,"y2":4.5,"e":71.2},
{"x":22.25,"y":4.5,"y2":5,"e":76.5},{"x":22.75,"y":4.5,"y2":5,"e":75.9},{"x":23.25,"y":4.5,"y2":5,"e":75.1},{"x":23.75,"y":4.5,"y2":5,"e":74.2},{"x":24.25,"y":4.5,"y2":5,"e":73.0},{"x":24.75,"y":4.5,"y2":5,"e":71.0},
{"x":6.75,"y":5,"y2":6,"e":91.82},{"x":7.25,"y":5,"y2":6,"e":91.55},{"x":7.75,"y":5,"y2":6,"e":91.15},{"x":8.25,"y":5,"y2":6,"e":90.65},{"x":8.75,"y":5,"y2":6,"e":90.0},{"x":9.25,"y":5,"y2":6,"e":89.3},{"x":9.75,"y":5,"y2":6,"e":88.9},{"x":10.25,"y":5,"y2":6,"e":88.6},{"x":10.75,"y":5,"y2":6,"e":88.3},{"x":11.25,"y":5,"y2":6,"e":88.05},{"x":11.75,"y":5,"y2":6,"e":87.8},{"x":12.25,"y":5,"y2":6,"e":87.55},{"x":12.75,"y":5,"y2":6,"e":87.3},{"x":13.25,"y":5,"y2":6,"e":87.05},{"x":13.75,"y":5,"y2":6,"e":86.8},{"x":14.25,"y":5,"y2":6,"e":86.55},{"x":14.75,"y":5,"y2":6,"e":86.3},{"x":15.25,"y":5,"y2":6,"e":85.7},{"x":15.75,"y":5,"y2":6,"e":85.05},{"x":16.25,"y":5,"y2":6,"e":84.45},{"x":16.75,"y":5,"y2":6,"e":83.8},{"x":17.25,"y":5,"y2":6,"e":83.2},{"x":17.75,"y":5,"y2":6,"e":82.55},{"x":18.25,"y":5,"y2":6,"e":81.9},{"x":18.75,"y":5,"y2":6,"e":81.25},{"x":19.25,"y":5,"y2":6,"e":80.6},{"x":19.75,"y":5,"y2":6,"e":79.95},{"x":20.25,"y":5,"y2":6,"e":79.3},{"x":20.75,"y":5,"y2":6,"e":78.65},{"x":21.25,"y":5,"y2":6,"e":78.0},{"x":21.75,"y":5,"y2":6,"e":77.4},{"x":22.25,"y":5,"y2":6,"e":76.8},{"x":22.75,"y":5,"y2":6,"e":76.15},{"x":23.25,"y":5,"y2":6,"e":75.55},{"x":23.75,"y":5,"y2":6,"e":74.8},{"x":24.25,"y":5,"y2":6,"e":73.9},{"x":24.75,"y":5,"y2":6,"e":72.6},
{"x":6.75,"y":6,"y2":7,"e":91.82},{"x":7.25,"y":6,"y2":7,"e":91.55},{"x":7.75,"y":6,"y2":7,"e":91.15},{"x":8.25,"y":6,"y2":7,"e":90.65},{"x":8.75,"y":6,"y2":7,"e":90.0},{"x":9.25,"y":6,"y2":7,"e":89.3},{"x":9.75,"y":6,"y2":7,"e":88.9},{"x":10.25,"y":6,"y2":7,"e":88.6},{"x":10.75,"y":6,"y2":7,"e":88.3},{"x":11.25,"y":6,"y2":7,"e":88.05},{"x":11.75,"y":6,"y2":7,"e":87.8},{"x":12.25,"y":6,"y2":7,"e":87.55},{"x":12.75,"y":6,"y2":7,"e":87.3},{"x":13.25,"y":6,"y2":7,"e":87.05},{"x":13.75,"y":6,"y2":7,"e":86.8},{"x":14.25,"y":6,"y2":7,"e":86.55},{"x":14.75,"y":6,"y2":7,"e":86.3},{"x":15.25,"y":6,"y2":7,"e":85.7},{"x":15.75,"y":6,"y2":7,"e":85.05},{"x":16.25,"y":6,"y2":7,"e":84.45},{"x":16.75,"y":6,"y2":7,"e":83.8},{"x":17.25,"y":6,"y2":7,"e":83.2},{"x":17.75,"y":6,"y2":7,"e":82.55},{"x":18.25,"y":6,"y2":7,"e":81.9},{"x":18.75,"y":6,"y2":7,"e":81.25},{"x":19.25,"y":6,"y2":7,"e":80.6},{"x":19.75,"y":6,"y2":7,"e":79.95},{"x":20.25,"y":6,"y2":7,"e":79.3},{"x":20.75,"y":6,"y2":7,"e":78.65},{"x":21.25,"y":6,"y2":7,"e":78.0},{"x":21.75,"y":6,"y2":7,"e":77.4},{"x":22.25,"y":6,"y2":7,"e":76.8},{"x":22.75,"y":6,"y2":7,"e":76.15},{"x":23.25,"y":6,"y2":7,"e":75.55},{"x":23.75,"y":6,"y2":7,"e":74.9},{"x":24.25,"y":6,"y2":7,"e":74.3},{"x":24.75,"y":6,"y2":7,"e":73.7},
{"x":6.75,"y":7,"y2":8,"e":91.8},{"x":7.25,"y":7,"y2":8,"e":91.55},{"x":7.75,"y":7,"y2":8,"e":91.15},{"x":8.25,"y":7,"y2":8,"e":90.65},{"x":8.75,"y":7,"y2":8,"e":90.0},{"x":9.25,"y":7,"y2":8,"e":89.3},{"x":9.75,"y":7,"y2":8,"e":88.9},{"x":10.25,"y":7,"y2":8,"e":88.6},{"x":10.75,"y":7,"y2":8,"e":88.3},{"x":11.25,"y":7,"y2":8,"e":88.05},{"x":11.75,"y":7,"y2":8,"e":87.8},{"x":12.25,"y":7,"y2":8,"e":87.55},{"x":12.75,"y":7,"y2":8,"e":87.3},{"x":13.25,"y":7,"y2":8,"e":87.05},{"x":13.75,"y":7,"y2":8,"e":86.8},{"x":14.25,"y":7,"y2":8,"e":86.55},{"x":14.75,"y":7,"y2":8,"e":86.3},{"x":15.25,"y":7,"y2":8,"e":85.7},{"x":15.75,"y":7,"y2":8,"e":85.05},{"x":16.25,"y":7,"y2":8,"e":84.45},{"x":16.75,"y":7,"y2":8,"e":83.8},{"x":17.25,"y":7,"y2":8,"e":83.2},{"x":17.75,"y":7,"y2":8,"e":82.55},{"x":18.25,"y":7,"y2":8,"e":81.9},{"x":18.75,"y":7,"y2":8,"e":81.25},{"x":19.25,"y":7,"y2":8,"e":80.6},{"x":19.75,"y":7,"y2":8,"e":79.95},{"x":20.25,"y":7,"y2":8,"e":79.3},{"x":20.75,"y":7,"y2":8,"e":78.65},{"x":21.25,"y":7,"y2":8,"e":78.0},{"x":21.75,"y":7,"y2":8,"e":77.4},{"x":22.25,"y":7,"y2":8,"e":76.8},{"x":22.75,"y":7,"y2":8,"e":76.15},{"x":23.25,"y":7,"y2":8,"e":75.55},{"x":23.75,"y":7,"y2":8,"e":74.9},{"x":24.25,"y":7,"y2":8,"e":74.3},{"x":24.75,"y":7,"y2":8,"e":73.7},
{"x":6.75,"y":8,"y2":9,"e":91.78},{"x":7.25,"y":8,"y2":9,"e":91.52},{"x":7.75,"y":8,"y2":9,"e":91.13},{"x":8.25,"y":8,"y2":9,"e":90.65},{"x":8.75,"y":8,"y2":9,"e":90.0},{"x":9.25,"y":8,"y2":9,"e":89.3},{"x":9.75,"y":8,"y2":9,"e":88.9},{"x":10.25,"y":8,"y2":9,"e":88.6},{"x":10.75,"y":8,"y2":9,"e":88.3},{"x":11.25,"y":8,"y2":9,"e":88.05},{"x":11.75,"y":8,"y2":9,"e":87.8},{"x":12.25,"y":8,"y2":9,"e":87.55},{"x":12.75,"y":8,"y2":9,"e":87.3},{"x":13.25,"y":8,"y2":9,"e":87.05},{"x":13.75,"y":8,"y2":9,"e":86.8},{"x":14.25,"y":8,"y2":9,"e":86.55},{"x":14.75,"y":8,"y2":9,"e":86.3},{"x":15.25,"y":8,"y2":9,"e":85.7},{"x":15.75,"y":8,"y2":9,"e":85.05},{"x":16.25,"y":8,"y2":9,"e":84.45},{"x":16.75,"y":8,"y2":9,"e":83.8},{"x":17.25,"y":8,"y2":9,"e":83.2},{"x":17.75,"y":8,"y2":9,"e":82.55},{"x":18.25,"y":8,"y2":9,"e":81.9},{"x":18.75,"y":8,"y2":9,"e":81.25},{"x":19.25,"y":8,"y2":9,"e":80.6},{"x":19.75,"y":8,"y2":9,"e":79.95},{"x":20.25,"y":8,"y2":9,"e":79.3},{"x":20.75,"y":8,"y2":9,"e":78.65},{"x":21.25,"y":8,"y2":9,"e":78.0},{"x":21.75,"y":8,"y2":9,"e":77.4},{"x":22.25,"y":8,"y2":9,"e":76.8},{"x":22.75,"y":8,"y2":9,"e":76.15},{"x":23.25,"y":8,"y2":9,"e":75.55},{"x":23.75,"y":8,"y2":9,"e":74.9},{"x":24.25,"y":8,"y2":9,"e":74.3},{"x":24.75,"y":8,"y2":9,"e":73.7},
{"x":6.75,"y":9,"y2":10,"e":91.72},{"x":7.25,"y":9,"y2":10,"e":91.46},{"x":7.75,"y":9,"y2":10,"e":91.1},{"x":8.25,"y":9,"y2":10,"e":90.6},{"x":8.75,"y":9,"y2":10,"e":89.97},{"x":9.25,"y":9,"y2":10,"e":89.28},{"x":9.75,"y":9,"y2":10,"e":88.9},{"x":10.25,"y":9,"y2":10,"e":88.6},{"x":10.75,"y":9,"y2":10,"e":88.3},{"x":11.25,"y":9,"y2":10,"e":88.05},{"x":11.75,"y":9,"y2":10,"e":87.8},{"x":12.25,"y":9,"y2":10,"e":87.55},{"x":12.75,"y":9,"y2":10,"e":87.3},{"x":13.25,"y":9,"y2":10,"e":87.05},{"x":13.75,"y":9,"y2":10,"e":86.8},{"x":14.25,"y":9,"y2":10,"e":86.55},{"x":14.75,"y":9,"y2":10,"e":86.3},{"x":15.25,"y":9,"y2":10,"e":85.7},{"x":15.75,"y":9,"y2":10,"e":85.05},{"x":16.25,"y":9,"y2":10,"e":84.45},{"x":16.75,"y":9,"y2":10,"e":83.8},{"x":17.25,"y":9,"y2":10,"e":83.2},{"x":17.75,"y":9,"y2":10,"e":82.55},{"x":18.25,"y":9,"y2":10,"e":81.9},{"x":18.75,"y":9,"y2":10,"e":81.25},{"x":19.25,"y":9,"y2":10,"e":80.6},{"x":19.75,"y":9,"y2":10,"e":79.95},{"x":20.25,"y":9,"y2":10,"e":79.3},{"x":20.75,"y":9,"y2":10,"e":78.65},{"x":21.25,"y":9,"y2":10,"e":78.0},{"x":21.75,"y":9,"y2":10,"e":77.4},{"x":22.25,"y":9,"y2":10,"e":76.8},{"x":22.75,"y":9,"y2":10,"e":76.15},{"x":23.25,"y":9,"y2":10,"e":75.55},{"x":23.75,"y":9,"y2":10,"e":74.9},{"x":24.25,"y":9,"y2":10,"e":74.3},{"x":24.75,"y":9,"y2":10,"e":73.7},
{"x":6.75,"y":10,"y2":11,"e":91.62},{"x":7.25,"y":10,"y2":11,"e":91.37},{"x":7.75,"y":10,"y2":11,"e":91.02},{"x":8.25,"y":10,"y2":11,"e":90.52},{"x":8.75,"y":10,"y2":11,"e":89.92},{"x":9.25,"y":10,"y2":11,"e":89.24},{"x":9.75,"y":10,"y2":11,"e":88.87},{"x":10.25,"y":10,"y2":11,"e":88.57},{"x":10.75,"y":10,"y2":11,"e":88.27},{"x":11.25,"y":10,"y2":11,"e":88.02},{"x":11.75,"y":10,"y2":11,"e":87.77},{"x":12.25,"y":10,"y2":11,"e":87.52},{"x":12.75,"y":10,"y2":11,"e":87.27},{"x":13.25,"y":10,"y2":11,"e":87.02},{"x":13.75,"y":10,"y2":11,"e":86.77},{"x":14.25,"y":10,"y2":11,"e":86.52},{"x":14.75,"y":10,"y2":11,"e":86.22},{"x":15.25,"y":10,"y2":11,"e":85.6},{"x":15.75,"y":10,"y2":11,"e":84.95},{"x":16.25,"y":10,"y2":11,"e":84.35},{"x":16.75,"y":10,"y2":11,"e":83.7},{"x":17.25,"y":10,"y2":11,"e":83.1},{"x":17.75,"y":10,"y2":11,"e":82.45},{"x":18.25,"y":10,"y2":11,"e":81.8},{"x":18.75,"y":10,"y2":11,"e":81.15},{"x":19.25,"y":10,"y2":11,"e":80.5},{"x":19.75,"y":10,"y2":11,"e":79.85},{"x":20.25,"y":10,"y2":11,"e":79.2},{"x":20.75,"y":10,"y2":11,"e":78.55},{"x":21.25,"y":10,"y2":11,"e":77.9},{"x":21.75,"y":10,"y2":11,"e":77.3},{"x":22.25,"y":10,"y2":11,"e":76.7},{"x":22.75,"y":10,"y2":11,"e":76.05},{"x":23.25,"y":10,"y2":11,"e":75.45},{"x":23.75,"y":10,"y2":11,"e":74.8},{"x":24.25,"y":10,"y2":11,"e":74.2},{"x":24.75,"y":10,"y2":11,"e":73.6},
{"x":6.75,"y":11,"y2":12,"e":91.52},{"x":7.25,"y":11,"y2":12,"e":91.26},{"x":7.75,"y":11,"y2":12,"e":90.9},{"x":8.25,"y":11,"y2":12,"e":90.4},{"x":8.75,"y":11,"y2":12,"e":89.8},{"x":9.25,"y":11,"y2":12,"e":89.17},{"x":9.75,"y":11,"y2":12,"e":88.83},{"x":10.25,"y":11,"y2":12,"e":88.53},{"x":10.75,"y":11,"y2":12,"e":88.23},{"x":11.25,"y":11,"y2":12,"e":87.98},{"x":11.75,"y":11,"y2":12,"e":87.73},{"x":12.25,"y":11,"y2":12,"e":87.48},{"x":12.75,"y":11,"y2":12,"e":87.23},{"x":13.25,"y":11,"y2":12,"e":86.98},{"x":13.75,"y":11,"y2":12,"e":86.73},{"x":14.25,"y":11,"y2":12,"e":86.48},{"x":14.75,"y":11,"y2":12,"e":86.1},{"x":15.25,"y":11,"y2":12,"e":85.45},{"x":15.75,"y":11,"y2":12,"e":84.8},{"x":16.25,"y":11,"y2":12,"e":84.2},{"x":16.75,"y":11,"y2":12,"e":83.55},{"x":17.25,"y":11,"y2":12,"e":82.95},{"x":17.75,"y":11,"y2":12,"e":82.3},{"x":18.25,"y":11,"y2":12,"e":81.65},{"x":18.75,"y":11,"y2":12,"e":81.0},{"x":19.25,"y":11,"y2":12,"e":80.35},{"x":19.75,"y":11,"y2":12,"e":79.7},{"x":20.25,"y":11,"y2":12,"e":79.05},{"x":20.75,"y":11,"y2":12,"e":78.4},{"x":21.25,"y":11,"y2":12,"e":77.75},{"x":21.75,"y":11,"y2":12,"e":77.15},{"x":22.25,"y":11,"y2":12,"e":76.55},{"x":22.75,"y":11,"y2":12,"e":75.9},{"x":23.25,"y":11,"y2":12,"e":75.3},{"x":23.75,"y":11,"y2":12,"e":74.65},{"x":24.25,"y":11,"y2":12,"e":74.05},{"x":24.75,"y":11,"y2":12,"e":73.45},
{"x":6.75,"y":12,"y2":13,"e":91.38},{"x":7.25,"y":12,"y2":13,"e":91.1},{"x":7.75,"y":12,"y2":13,"e":90.72},{"x":8.25,"y":12,"y2":13,"e":90.2},{"x":8.75,"y":12,"y2":13,"e":89.65},{"x":9.25,"y":12,"y2":13,"e":89.08},{"x":9.75,"y":12,"y2":13,"e":88.78},{"x":10.25,"y":12,"y2":13,"e":88.48},{"x":10.75,"y":12,"y2":13,"e":88.18},{"x":11.25,"y":12,"y2":13,"e":87.93},{"x":11.75,"y":12,"y2":13,"e":87.68},{"x":12.25,"y":12,"y2":13,"e":87.43},{"x":12.75,"y":12,"y2":13,"e":87.18},{"x":13.25,"y":12,"y2":13,"e":86.93},{"x":13.75,"y":12,"y2":13,"e":86.68},{"x":14.25,"y":12,"y2":13,"e":86.43},{"x":14.75,"y":12,"y2":13,"e":85.95},{"x":15.25,"y":12,"y2":13,"e":85.3},{"x":15.75,"y":12,"y2":13,"e":84.65},{"x":16.25,"y":12,"y2":13,"e":84.05},{"x":16.75,"y":12,"y2":13,"e":83.4},{"x":17.25,"y":12,"y2":13,"e":82.8},{"x":17.75,"y":12,"y2":13,"e":82.15},{"x":18.25,"y":12,"y2":13,"e":81.5},{"x":18.75,"y":12,"y2":13,"e":80.85},{"x":19.25,"y":12,"y2":13,"e":80.2},{"x":19.75,"y":12,"y2":13,"e":79.55},{"x":20.25,"y":12,"y2":13,"e":78.9},{"x":20.75,"y":12,"y2":13,"e":78.25},{"x":21.25,"y":12,"y2":13,"e":77.6},{"x":21.75,"y":12,"y2":13,"e":77.0},{"x":22.25,"y":12,"y2":13,"e":76.4},{"x":22.75,"y":12,"y2":13,"e":75.75},{"x":23.25,"y":12,"y2":13,"e":75.15},{"x":23.75,"y":12,"y2":13,"e":74.5},{"x":24.25,"y":12,"y2":13,"e":73.9},{"x":24.75,"y":12,"y2":13,"e":73.3},
{"x":6.75,"y":13,"y2":14,"e":91.2},{"x":7.25,"y":13,"y2":14,"e":90.9},{"x":7.75,"y":13,"y2":14,"e":90.5},{"x":8.25,"y":13,"y2":14,"e":90.0},{"x":8.75,"y":13,"y2":14,"e":89.45},{"x":9.25,"y":13,"y2":14,"e":88.95},{"x":9.75,"y":13,"y2":14,"e":88.7},{"x":10.25,"y":13,"y2":14,"e":88.4},{"x":10.75,"y":13,"y2":14,"e":88.1},{"x":11.25,"y":13,"y2":14,"e":87.85},{"x":11.75,"y":13,"y2":14,"e":87.6},{"x":12.25,"y":13,"y2":14,"e":87.35},{"x":12.75,"y":13,"y2":14,"e":87.1},{"x":13.25,"y":13,"y2":14,"e":86.85},{"x":13.75,"y":13,"y2":14,"e":86.6},{"x":14.25,"y":13,"y2":14,"e":86.3},{"x":14.75,"y":13,"y2":14,"e":85.7},{"x":15.25,"y":13,"y2":14,"e":85.05},{"x":15.75,"y":13,"y2":14,"e":84.4},{"x":16.25,"y":13,"y2":14,"e":83.8},{"x":16.75,"y":13,"y2":14,"e":83.15},{"x":17.25,"y":13,"y2":14,"e":82.55},{"x":17.75,"y":13,"y2":14,"e":81.9},{"x":18.25,"y":13,"y2":14,"e":81.25},{"x":18.75,"y":13,"y2":14,"e":80.6},{"x":19.25,"y":13,"y2":14,"e":79.95},{"x":19.75,"y":13,"y2":14,"e":79.3},{"x":20.25,"y":13,"y2":14,"e":78.65},{"x":20.75,"y":13,"y2":14,"e":78.0},{"x":21.25,"y":13,"y2":14,"e":77.35},{"x":21.75,"y":13,"y2":14,"e":76.75},{"x":22.25,"y":13,"y2":14,"e":76.15},{"x":22.75,"y":13,"y2":14,"e":75.5},{"x":23.25,"y":13,"y2":14,"e":74.9},{"x":23.75,"y":13,"y2":14,"e":74.25},{"x":24.25,"y":13,"y2":14,"e":73.65},{"x":24.75,"y":13,"y2":14,"e":73.05}
]},
"mark":{"type":"rect","binSpacing":0,"x2Offset":-0.6,"y2Offset":0.6},
"encoding":{
"x":{"field":"x","type":"quantitative","bin":{"step":0.5,"extent":[6.5,25]},"scale":{"domain":[6.5,25],"nice":false,"zero":false},"axis":{"title":"Inner Rotor Radius (mm)","format":"d","values":[7,8,9,10,11,12,13,14,15,16,17,18,19,20,21,22,23,24],"labelExpr":"datum.value % 2 === 0 ? datum.label : ''","tickSize":{"condition":{"test":"datum.value % 2 === 0","value":5},"value":3},"titlePadding":6}},
"y":{"field":"y","type":"quantitative","bin":"binned","scale":{"domain":[1,14],"nice":false,"zero":false},"axis":{"title":"Pole Piece Length (mm)","format":"d","values":[2,3,4,5,6,7,8,9,10,11,12,13,14],"labelExpr":"datum.value % 2 === 0 ? datum.label : ''","tickSize":{"condition":{"test":"datum.value % 2 === 0","value":5},"value":3},"titlePadding":-2}},
"y2":{"field":"y2"},
"color":{"field":"e","type":"quantitative","scale":{"domain":[69.98,91.82],"range":["#ffffff","#000000"],"clamp":true},"legend":{"type":"gradient","title":"Efficiency (%)","orient":"none","legendX":203,"legendY":-21,"direction":"vertical","gradientLength":196,"gradientThickness":18,"values":[69.98,72.71,75.44,78.17,80.9,83.63,86.36,89.09,91.82],"format":".1f","titleAnchor":"end","titlePadding":5,"labelOffset":4,"labelBaseline":"middle","labelOverlap":false}}
}},
{"data":{"values":[
{"c":"a","i":0,"lx":9.0,"ly":14},{"c":"a","i":1,"lx":9.3,"ly":11},{"c":"a","i":2,"lx":9.4,"ly":8},{"c":"a","i":3,"lx":9.3,"ly":5},{"c":"a","i":4,"lx":9.1,"ly":3.5},{"c":"a","i":5,"lx":8.9,"ly":2.7},{"c":"a","i":6,"lx":8.5,"ly":2.3},{"c":"a","i":7,"lx":7.5,"ly":1.9},{"c":"a","i":8,"lx":6.5,"ly":1.6},
{"c":"b","i":0,"lx":14.4,"ly":14},{"c":"b","i":1,"lx":14.6,"ly":11},{"c":"b","i":2,"lx":14.7,"ly":8},{"c":"b","i":3,"lx":14.65,"ly":5},{"c":"b","i":4,"lx":14.5,"ly":3},{"c":"b","i":5,"lx":14.4,"ly":2.1},{"c":"b","i":6,"lx":13.0,"ly":1.8},{"c":"b","i":7,"lx":11.0,"ly":1.35},{"c":"b","i":8,"lx":9.6,"ly":1.0},
{"c":"c","i":0,"lx":16.6,"ly":14},{"c":"c","i":1,"lx":16.8,"ly":11},{"c":"c","i":2,"lx":16.9,"ly":8},{"c":"c","i":3,"lx":16.85,"ly":5},{"c":"c","i":4,"lx":16.6,"ly":3},{"c":"c","i":5,"lx":16.2,"ly":2.2},{"c":"c","i":6,"lx":15.5,"ly":1.98},{"c":"c","i":7,"lx":13.0,"ly":1.6},{"c":"c","i":8,"lx":10.6,"ly":1.0},
{"c":"d","i":0,"lx":18.7,"ly":14},{"c":"d","i":1,"lx":18.9,"ly":11},{"c":"d","i":2,"lx":19.0,"ly":8},{"c":"d","i":3,"lx":18.9,"ly":5},{"c":"d","i":4,"lx":18.6,"ly":3},{"c":"d","i":5,"lx":18.0,"ly":2.1},{"c":"d","i":6,"lx":17.0,"ly":1.95},{"c":"d","i":7,"lx":14.0,"ly":1.55},{"c":"d","i":8,"lx":11.7,"ly":1.0},
{"c":"e","i":0,"lx":20.8,"ly":14},{"c":"e","i":1,"lx":21.0,"ly":11},{"c":"e","i":2,"lx":21.1,"ly":8},{"c":"e","i":3,"lx":21.0,"ly":5},{"c":"e","i":4,"lx":20.6,"ly":3.2},{"c":"e","i":5,"lx":19.8,"ly":2.3},{"c":"e","i":6,"lx":18.5,"ly":1.95},{"c":"e","i":7,"lx":15.0,"ly":1.5},{"c":"e","i":8,"lx":12.9,"ly":1.0},
{"c":"f","i":0,"lx":23.05,"ly":14},{"c":"f","i":1,"lx":23.25,"ly":11},{"c":"f","i":2,"lx":23.35,"ly":8},{"c":"f","i":3,"lx":23.2,"ly":5},{"c":"f","i":4,"lx":22.5,"ly":3.5},{"c":"f","i":5,"lx":21.5,"ly":2.7},{"c":"f","i":6,"lx":20.0,"ly":2.0},{"c":"f","i":7,"lx":17.0,"ly":1.7},{"c":"f","i":8,"lx":14.1,"ly":1.0},
{"c":"g","i":0,"lx":25,"ly":6},{"c":"g","i":1,"lx":24,"ly":4},{"c":"g","i":2,"lx":22.6,"ly":3},{"c":"g","i":3,"lx":20.36,"ly":1.98},{"c":"g","i":4,"lx":18.9,"ly":1.88},{"c":"g","i":5,"lx":16.2,"ly":1.8},{"c":"g","i":6,"lx":15.0,"ly":1.0}
]},
"mark":{"type":"line","stroke":"#777777","strokeWidth":0.8,"interpolate":"linear"},
"encoding":{
"x":{"field":"lx","type":"quantitative","scale":{"domain":[6.5,25],"nice":false,"zero":false},"axis":{"title":"Inner Rotor Radius (mm)","format":"d","values":[7,8,9,10,11,12,13,14,15,16,17,18,19,20,21,22,23,24],"labelExpr":"datum.value % 2 === 0 ? datum.label : ''","tickSize":{"condition":{"test":"datum.value % 2 === 0","value":5},"value":3},"titlePadding":6}},
"y":{"field":"ly","type":"quantitative","scale":{"domain":[1,14],"nice":false,"zero":false},"axis":{"title":"Pole Piece Length (mm)","format":"d","values":[2,3,4,5,6,7,8,9,10,11,12,13,14],"labelExpr":"datum.value % 2 === 0 ? datum.label : ''","tickSize":{"condition":{"test":"datum.value % 2 === 0","value":5},"value":3},"titlePadding":-2}},
"detail":{"field":"c","type":"nominal"},
"order":{"field":"i","type":"quantitative"}
}}
]}
]}
